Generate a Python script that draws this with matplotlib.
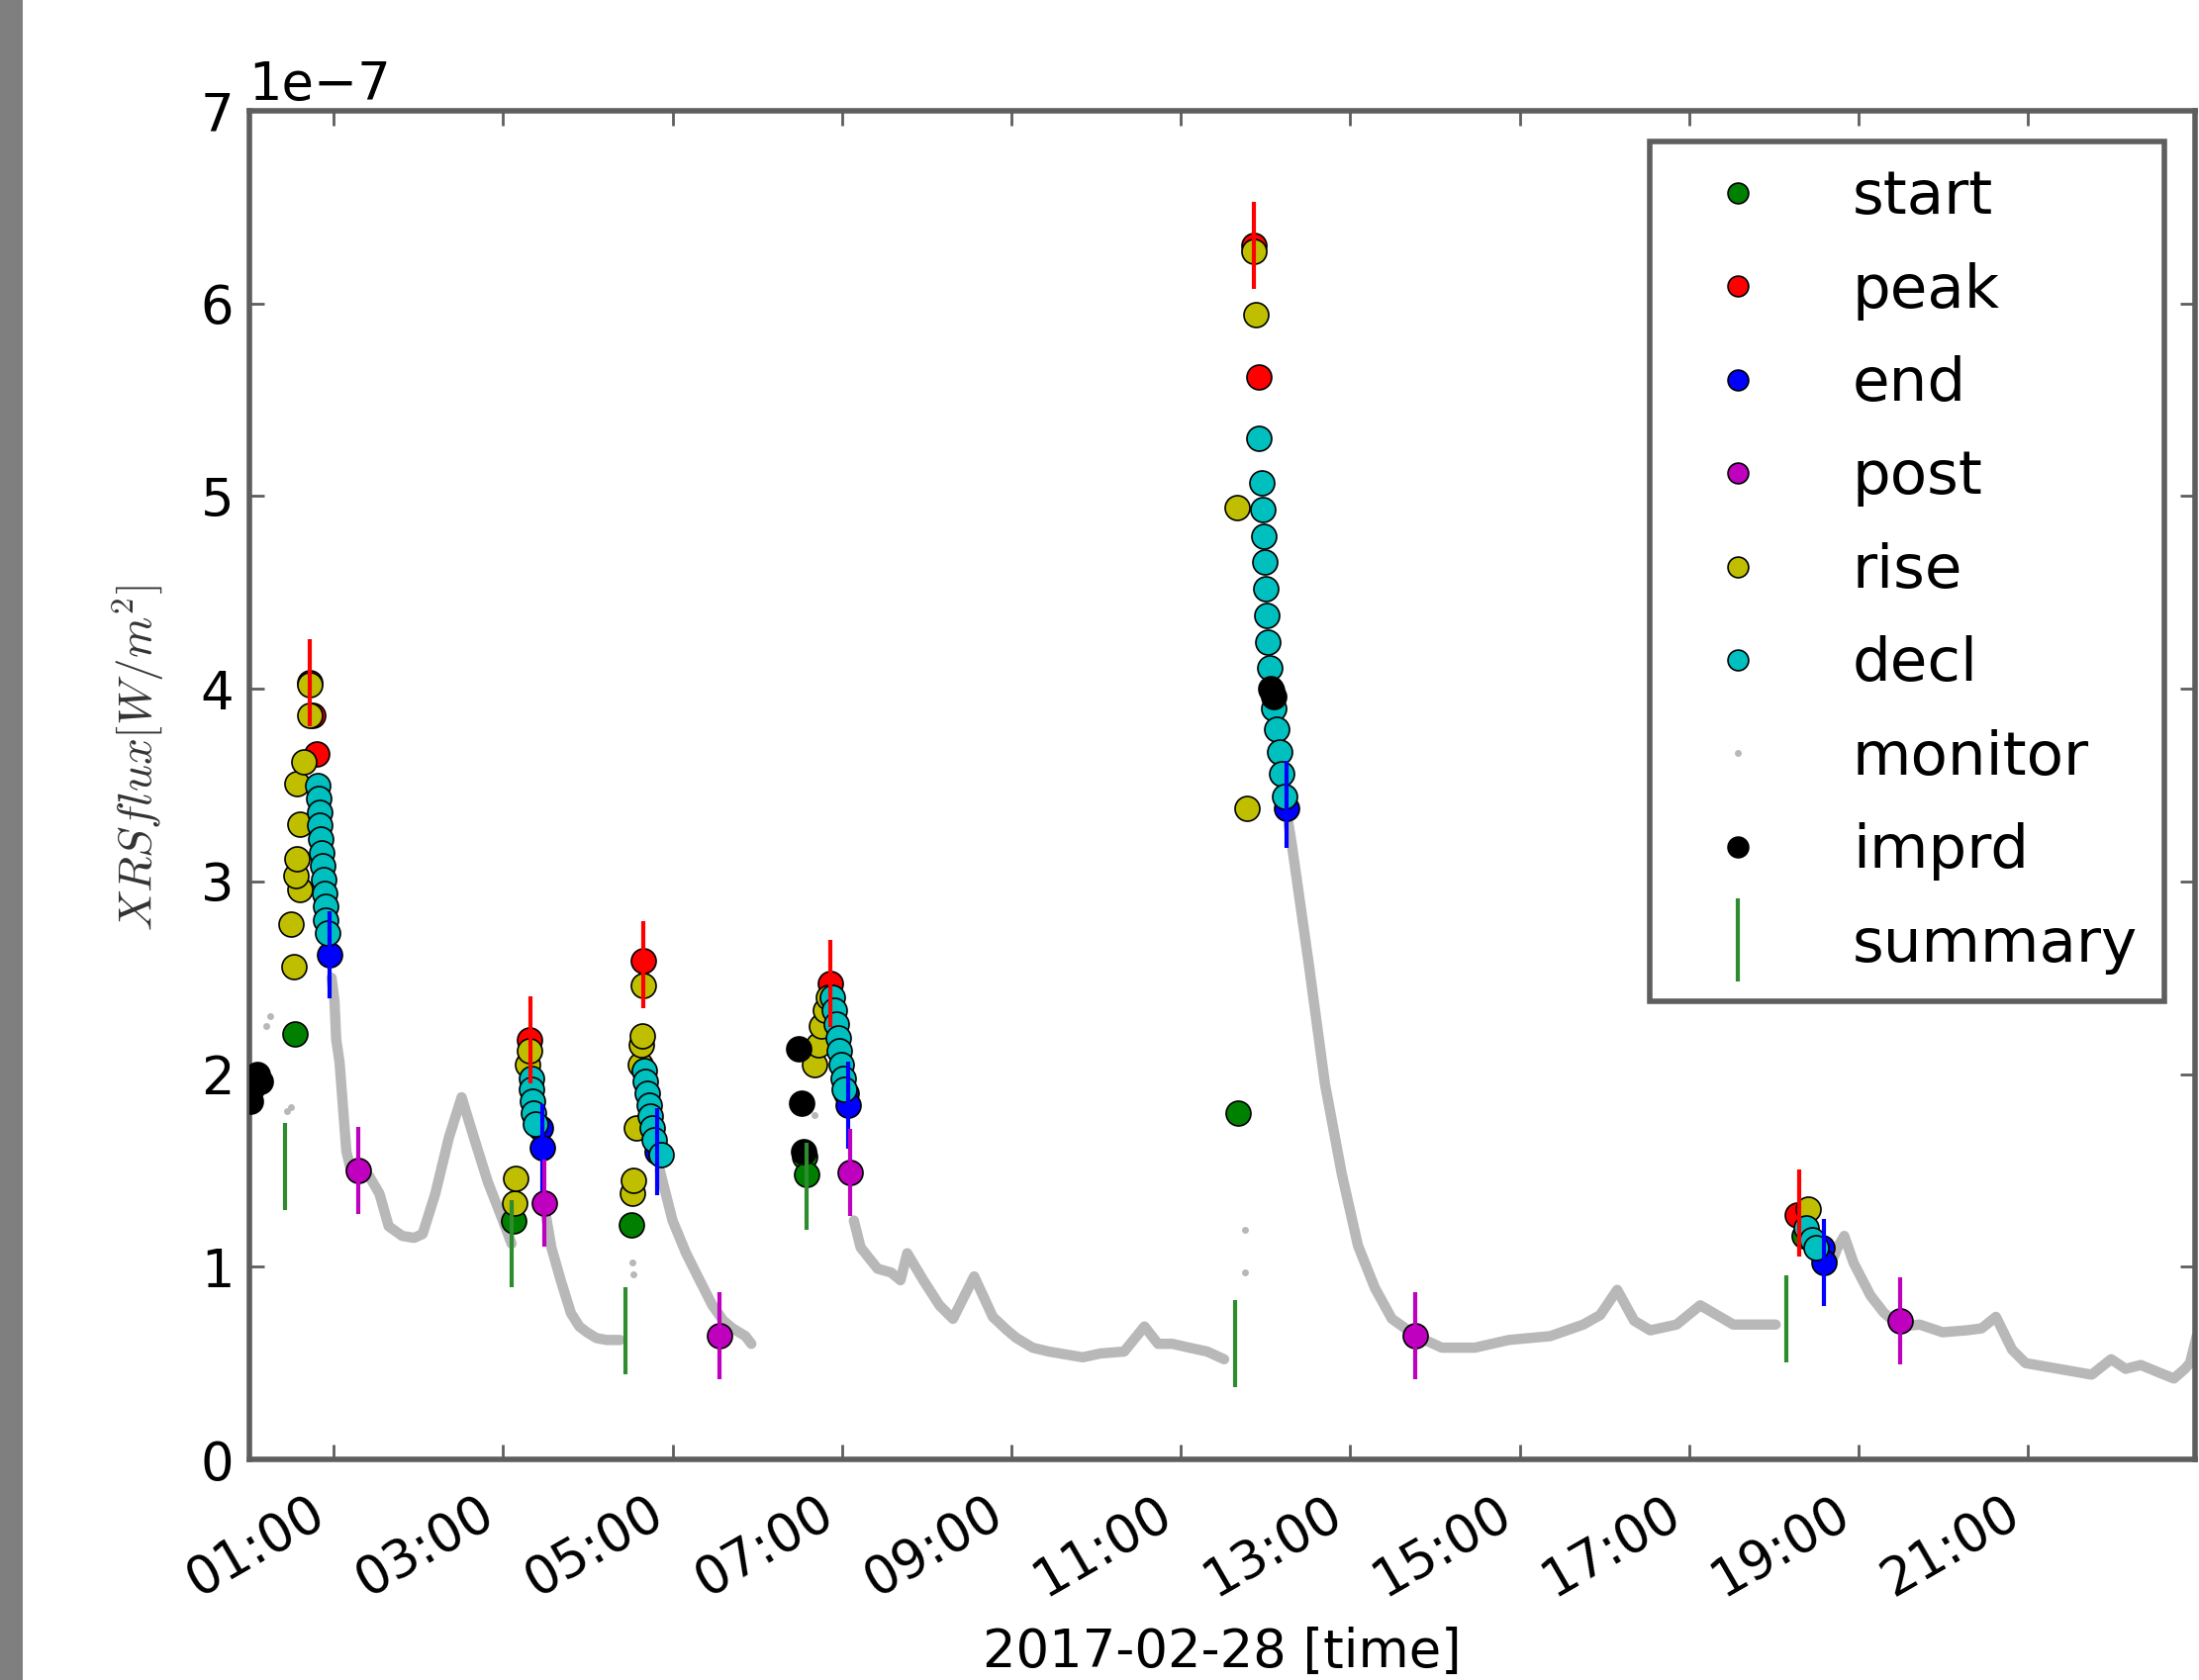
import matplotlib
matplotlib.use('Agg')
import matplotlib.pyplot as plt
import matplotlib.dates as mdates
from matplotlib.lines import Line2D
from matplotlib.patches import Rectangle
from datetime import datetime
import numpy as np

plt.rcParams['font.family'] = ['DejaVu Sans']
plt.rcParams['axes.unicode_minus'] = True
plt.rcParams['mathtext.fontset'] = 'cm'

# ---------------- data (hours after 2017-02-28 00:00, flux in 1e-7 W/m^2) --------
start_h = [0.54, 3.13, 4.52, 6.56, 6.58, 11.67, 18.36]
start_v = [2.21, 1.24, 1.22, 1.57, 1.48, 1.80, 1.16]

peak_h = [0.72, 0.75, 0.80, 3.31, 4.65, 6.86, 6.87, 11.86, 11.92, 18.28]
peak_v = [4.03, 3.86, 3.66, 2.18, 2.59, 2.47, 2.38, 6.30, 5.62, 1.27]

end_h = [0.95, 3.44, 3.46, 4.82, 7.05, 7.07, 12.25, 18.57, 18.59]
end_v = [2.62, 1.72, 1.62, 1.60, 1.90, 1.84, 3.38, 1.10, 1.02]

post_h = [1.29, 3.49, 5.55, 7.09, 13.76, 19.49]
post_v = [1.50, 1.33, 0.64, 1.49, 0.64, 0.72]

rise_h = [0.53, 0.50, 0.60, 0.55, 0.57, 0.60, 0.57, 0.65, 0.72, 0.72,
          3.14, 3.15, 3.29, 3.31,
          4.53, 4.54, 4.57, 4.62, 4.63, 4.64, 4.65,
          6.68, 6.72, 6.76, 6.80, 6.84,
          11.78, 11.66, 11.88, 11.86,
          18.40]
rise_v = [2.56, 2.78, 2.96, 3.03, 3.12, 3.30, 3.51, 3.62, 3.86, 4.02,
          1.33, 1.46, 2.05, 2.12,
          1.38, 1.45, 1.72, 2.05, 2.15, 2.20, 2.46,
          2.05, 2.15, 2.25, 2.33, 2.40,
          3.38, 4.94, 5.94, 6.27,
          1.30]

decl_h = [0.81, 0.82, 0.83, 0.84, 0.85, 0.86, 0.87, 0.88, 0.89, 0.90, 0.91, 0.93,
          3.33, 3.34, 3.35, 3.36, 3.38,
          4.67, 4.68, 4.70, 4.72, 4.74, 4.76, 4.78, 4.86,
          6.89, 6.91, 6.93, 6.95, 6.97, 6.99, 7.01, 7.03,
          11.92, 11.96, 11.97, 11.98, 11.99, 12.00, 12.01, 12.03, 12.05, 12.07,
          12.10, 12.13, 12.16, 12.19, 12.22,
          18.38, 18.45, 18.50]
decl_v = [3.50, 3.43, 3.36, 3.29, 3.22, 3.15, 3.08, 3.01, 2.94, 2.87, 2.80, 2.73,
          1.98, 1.92, 1.86, 1.80, 1.74,
          2.02, 1.96, 1.90, 1.84, 1.78, 1.72, 1.66, 1.58,
          2.40, 2.33, 2.26, 2.19, 2.12, 2.05, 1.98, 1.92,
          5.30, 5.07, 4.93, 4.79, 4.66, 4.52, 4.38, 4.24, 4.11, 3.99,
          3.90, 3.79, 3.67, 3.56, 3.44,
          1.20, 1.14, 1.10]

monitor_h = [0.975, 1.01, 1.03, 1.07, 1.11, 1.15, 1.21, 1.32, 1.42, 1.54, 1.65, 1.81,
             1.95, 2.05, 2.20, 2.36, 2.51, 2.67, 2.82, 2.98, 3.10, np.nan,
             3.50, 3.57, 3.68, 3.80, 3.90, 3.99, 4.10, 4.22, 4.38, np.nan,
             4.85, 5.00, 5.16, 5.32, 5.47, 5.60, 5.71, 5.86, 5.93, np.nan,
             7.14, 7.22, 7.42, 7.58, 7.69, 7.77, 7.96, 8.15, 8.31, 8.56, 8.78, 8.95,
             9.06, 9.25, 9.44, 9.84, 10.05, 10.33, 10.57, 10.73, 10.90, 11.10, 11.31,
             11.51, np.nan,
             12.27, 12.31, 12.51, 12.70, 12.90, 13.09, 13.29, 13.49, 13.78, 14.08,
             14.47, 14.87, 15.36, 15.75, 15.95, 16.15, 16.35, 16.54, 16.85, 17.13,
             17.52, 18.02, np.nan,
             18.66, 18.75, 18.83, 18.94, 19.14, 19.30, 19.49, 19.72, 19.99, 20.27,
             20.45, 20.62, 20.81, 20.97, 21.36, 21.75, 21.98, 22.15, 22.33, 22.55,
             22.72, 22.85, 22.91, 22.99]
monitor_v = [2.50, 2.38, 2.18, 2.06, 1.83, 1.60, 1.49, 1.48, 1.47, 1.38, 1.21, 1.16,
             1.15, 1.17, 1.38, 1.67, 1.88, 1.65, 1.44, 1.26, 1.12, np.nan,
             1.28, 1.10, 0.93, 0.76, 0.69, 0.66, 0.63, 0.62, 0.62, np.nan,
             1.50, 1.24, 1.07, 0.93, 0.80, 0.72, 0.68, 0.64, 0.60, np.nan,
             1.24, 1.10, 0.99, 0.97, 0.93, 1.07, 0.93, 0.80, 0.73, 0.95, 0.74, 0.67,
             0.63, 0.58, 0.56, 0.53, 0.55, 0.56, 0.69, 0.60, 0.60, 0.58, 0.56,
             0.52, np.nan,
             3.30, 3.19, 2.57, 1.95, 1.48, 1.11, 0.89, 0.73, 0.64, 0.58,
             0.58, 0.62, 0.64, 0.70, 0.75, 0.88, 0.72, 0.67, 0.70, 0.80,
             0.70, 0.70, np.nan,
             1.00, 1.10, 1.16, 1.02, 0.85, 0.76, 0.69, 0.70, 0.66, 0.67,
             0.68, 0.74, 0.57, 0.50, 0.47, 0.44, 0.52, 0.47, 0.49, 0.45,
             0.42, 0.47, 0.50, 0.64]

monitor_dot_h = [0.20, 0.25, 0.45, 0.50, 4.53, 4.54, 6.68, 11.76, 11.76]
monitor_dot_v = [2.25, 2.30, 1.81, 1.83, 1.02, 0.96, 1.79, 1.19, 0.97]

imprd_h = [0.02, 0.04, 0.07, 0.10, 0.13, 6.49, 6.52, 6.55, 12.06, 12.09]
imprd_v = [1.86, 1.93, 1.98, 2.00, 1.96, 2.13, 1.85, 1.60, 4.00, 3.96]

summary_h = [0.43, 3.10, 4.44, 6.58, 11.64, 18.15]
summary_v = [1.52, 1.12, 0.67, 1.42, 0.60, 0.73]

summary_peak_h = [0.72, 3.32, 4.65, 6.86, 11.86, 18.30]
summary_peak_v = [4.03, 2.18, 2.57, 2.47, 6.30, 1.28]
summary_end_h = [0.95, 3.46, 4.82, 7.07, 12.25, 18.59]
summary_end_v = [2.62, 1.62, 1.60, 1.84, 3.40, 1.02]

labels = ['start', 'peak', 'end', 'post', 'rise', 'decl', 'monitor', 'imprd', 'summary']
colors = {'start': '#008000', 'peak': '#ff0000', 'end': '#0000ff', 'post': '#bf00bf',
          'rise': '#bfbf00', 'decl': '#00bfbf', 'monitor': '#b8b8b8', 'imprd': '#000000',
          'summary': '#2e8b2e'}

SCALE = 1e-7
T0 = mdates.date2num(datetime(2017, 2, 28))


def tx(h):
    return T0 + np.asarray(h, dtype=float) / 24.0


def fv(v):
    return np.asarray(v, dtype=float) * SCALE


# ---------------- figure ----------------
fig = plt.figure(figsize=(22.22, 16.98), dpi=100)
fig.add_artist(Rectangle((0, 0), 23 / 2222, 1, transform=fig.transFigure,
                         facecolor='#7f7f7f', edgecolor='none', zorder=0))
ax = fig.add_axes([0.1132, 0.1313, 0.885, 0.8027])

MS = 18
MEW = 1.2
BAR = 64

ax.plot(tx(monitor_h), fv(monitor_v), '-', color=colors['monitor'], lw=7.5,
        solid_capstyle='round', zorder=1)
ax.plot(tx(monitor_dot_h), fv(monitor_dot_v), 'o', color=colors['monitor'], ms=5,
        mec='none', zorder=1)

series = [('start', start_h, start_v), ('peak', peak_h, peak_v), ('end', end_h, end_v),
          ('post', post_h, post_v), ('rise', rise_h, rise_v), ('decl', decl_h, decl_v),
          ('imprd', imprd_h, imprd_v)]
for name, hh, vv in series:
    ax.plot(tx(hh), fv(vv), 'o', ms=MS, mfc=colors[name], mec='black', mew=MEW,
            ls='none', zorder=3)

for hh, vv, c in [(summary_h, summary_v, colors['summary']),
                  (summary_peak_h, summary_peak_v, colors['peak']),
                  (summary_end_h, summary_end_v, colors['end']),
                  (post_h, post_v, colors['post'])]:
    ax.plot(tx(hh), fv(vv), '|', ms=BAR, mew=3.0, color=c, ls='none', zorder=4)

ax.set_xlim(tx(0.0), tx(22.97))
ax.set_ylim(0, 7e-7)

ax.xaxis.set_major_locator(mdates.HourLocator(byhour=range(1, 24, 2)))
ax.xaxis.set_major_formatter(mdates.DateFormatter('%H:%M'))
ax.yaxis.set_major_locator(plt.MultipleLocator(1e-7))

spine_c = '#5e5e5e'
for sp in ax.spines.values():
    sp.set_linewidth(4)
    sp.set_color(spine_c)
ax.tick_params(direction='in', top=True, right=True, length=11, width=2,
               color=spine_c, labelsize=38)
ax.tick_params(axis='x', pad=20)
ax.tick_params(axis='y', pad=11)
for lab in ax.get_xticklabels():
    lab.set_rotation(30)
    lab.set_ha('right')
ax.yaxis.get_offset_text().set_fontsize(38)
ax.yaxis.OFFSETTEXTPAD = 8

ax.set_xlabel('2017-02-28 [time]', fontsize=38, va='top')
ax.xaxis.set_label_coords(0.5, -0.124)
ax.set_ylabel(r'$XRS flux [W/m^2]$', fontsize=34, color='#333333')
ax.yaxis.set_label_coords(-0.0427, 0.52)

# legend
handles = []
for name in labels:
    if name == 'monitor':
        h = Line2D([], [], marker='o', ls='none', ms=5, mfc=colors[name], mec='none')
    elif name == 'summary':
        h = Line2D([], [], marker='|', ls='none', ms=60, mew=3.0, color=colors[name])
    else:
        h = Line2D([], [], marker='o', ls='none', ms=15, mfc=colors[name], mec='black',
                   mew=MEW)
    handles.append(h)
leg = ax.legend(handles, labels, loc='upper right', fontsize=44, labelspacing=0.58,
                borderpad=0.45, handlelength=2.0, handletextpad=0.9, borderaxespad=0.5,
                numpoints=1, frameon=True, fancybox=False, framealpha=1)
leg.get_frame().set_edgecolor(spine_c)
leg.get_frame().set_linewidth(4)

fig.savefig('out.png', dpi=100)
